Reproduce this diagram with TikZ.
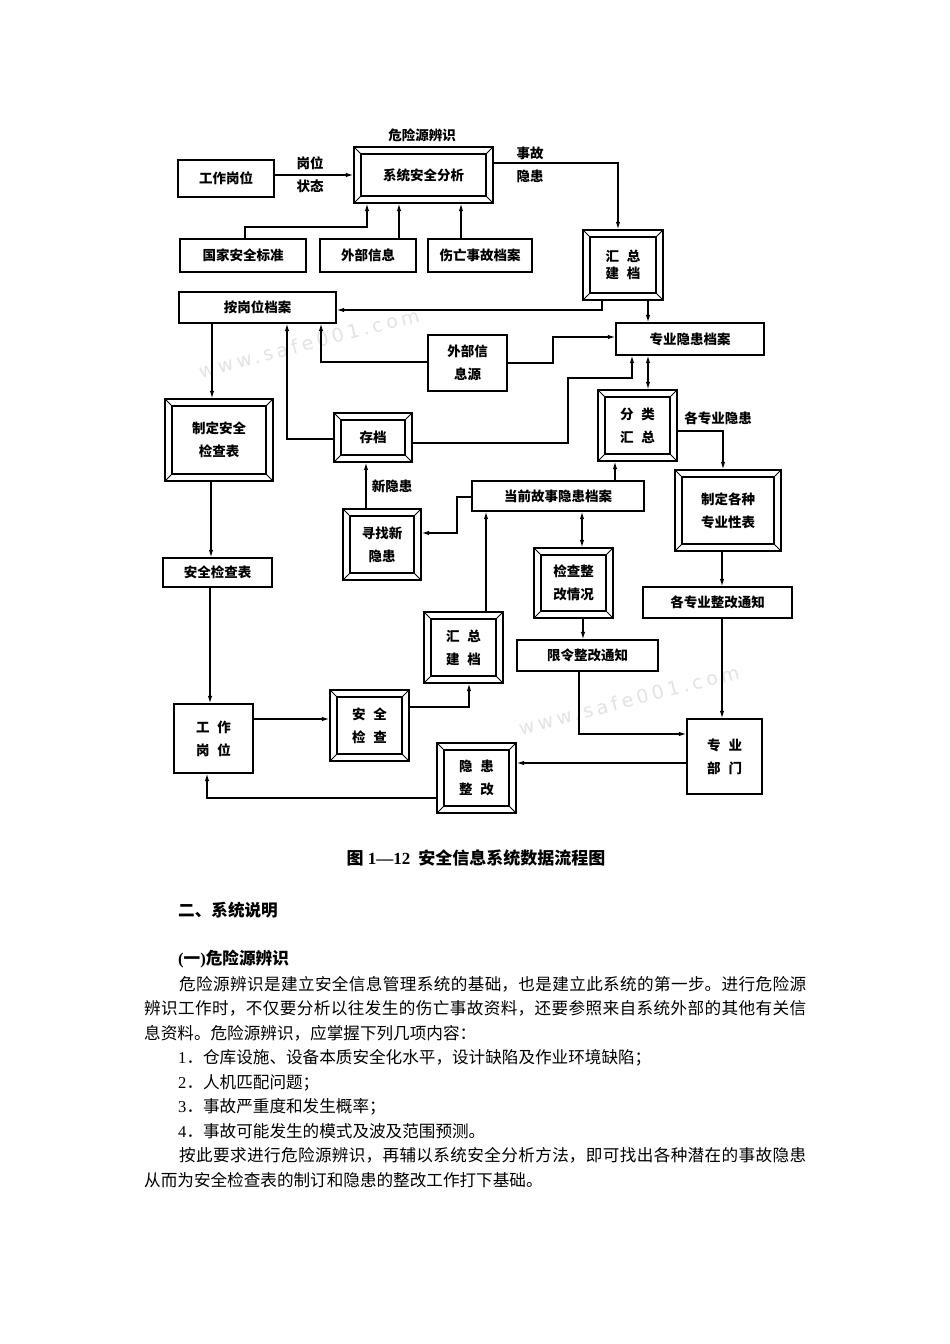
\documentclass[tikz,border=0pt]{standalone}
\usepackage{fontspec}
\setmainfont{Liberation Serif}
\newfontfamily\cjk{Noto Sans CJK SC}
\newfontfamily\wmfont[LetterSpace=20]{DejaVu Sans}
\usetikzlibrary{arrows.meta}
\XeTeXlinebreaklocale "zh"
\XeTeXlinebreakskip=0pt plus 3pt
\newcommand{\chgap}{\hspace{8pt}}

\tikzset{
  plainbox/.style={draw, line width=1.4pt, inner sep=0pt, align=center},
  bevel/.style={plainbox, path picture={
      \draw[line width=1.3pt]
        ([xshift=7pt,yshift=-7pt]path picture bounding box.north west)
        rectangle ([xshift=-7pt,yshift=7pt]path picture bounding box.south east);
      \draw[line width=0.9pt]
        (path picture bounding box.north west) -- ++(7pt,-7pt)
        (path picture bounding box.north east) -- ++(-7pt,-7pt)
        (path picture bounding box.south west) -- ++(7pt,7pt)
        (path picture bounding box.south east) -- ++(-7pt,7pt);
    }},
  sz/.style 2 args={minimum width=#1pt, minimum height=#2pt},
  lbl/.style={inner sep=0pt, align=center},
  arr/.style={line width=1.2pt, -{Latex[length=7.5pt,width=4.5pt]}},
  darr/.style={line width=1.2pt, {Latex[length=7.5pt,width=4.5pt]}-{Latex[length=7.5pt,width=4.5pt]}},
  bodyline/.style={inner sep=0pt, anchor=base west, font=\cjk\fontsize{16.6}{24}\selectfont},
  justline/.style={bodyline, text width=#1pt, align=justify,
    execute at begin node={\parfillskip=0pt\noindent}},
  headline/.style={inner sep=0pt, anchor=base west, font=\cjk\bfseries\fontsize{16.6}{24}\selectfont},
  watermark/.style={inner sep=0pt, rotate=14.5, text=gray!22, font=\wmfont\fontsize{19}{19}\selectfont}
}

\begin{document}
\begin{tikzpicture}[x=1pt, y=-1pt, font=\cjk\bfseries\fontsize{13.5}{23}\selectfont]
    \useasboundingbox[fill=white] (0,0) rectangle (950,1344);

    % Watermarks
    \node[watermark] (wmA) at (309,343) {www.safe001.com};
    \node[watermark] (wmB) at (629,700) {www.safe001.com};

    % Top row
    \node[plainbox, sz={96}{37}] (gwA) at (226,178.5) {工作岗位};
    \node[bevel, sz={139}{56}] (xtfx) at (423.5,175) {系统安全分析};
    \node[lbl] (wxyb) at (422,135) {危险源辨识};
    \node[lbl] (gwzt) at (310,174.5) {岗位\\状态};
    \node[lbl] (sgyh) at (530,164.5) {事故\\隐患};
    \node[plainbox, sz={126}{33}] (gjbz) at (243,255.5) {国家安全标准};
    \node[plainbox, sz={96}{33}] (wbxx) at (368,255.5) {外部信息};
    \node[plainbox, sz={104}{33}] (swda) at (480,255.5) {伤亡事故档案};
    \node[bevel, sz={80}{70}] (hzjdA) at (623,265) {汇\chgap 总\\[-6pt]建\chgap 档};

    % Middle part
    \node[plainbox, sz={157}{31}] (agwda) at (257.5,307.5) {按岗位档案};
    \node[plainbox, sz={148}{32}] (zyyhda) at (690,339) {专业隐患档案};
    \node[plainbox, sz={79}{56}] (wbxxy) at (467.5,363) {外部信\\息源};
    \node[bevel, sz={108}{82}] (zdaq) at (219,440) {制定安全\\检查表};
    \node[bevel, sz={78}{49}] (cd) at (373,437.5) {存档};
    \node[bevel, sz={79}{71}] (flhz) at (637.5,425.5) {分\chgap 类\\汇\chgap 总};
    \node[lbl] (gzyh) at (718,418) {各专业隐患};
    \node[bevel, sz={106}{81}] (zdgz) at (728,510.5) {制定各种\\专业性表};
    \node[plainbox, sz={172}{30}] (dqgs) at (558,496) {当前故事隐患档案};
    \node[bevel, sz={78}{71}] (xzx) at (382,544.5) {寻找新\\隐患};
    \node[lbl] (xyh) at (392,486) {新隐患};
    \node[bevel, sz={79}{70}] (jczg) at (573.5,583) {检查整\\改情况};
    \node[plainbox, sz={109}{29}] (aqjcb) at (217.5,572.5) {安全检查表};
    \node[plainbox, sz={149}{31}] (gzzm) at (717.5,602.5) {各专业整改通知};
    \node[bevel, sz={79}{71}] (hzjdB) at (463.5,647.5) {汇\chgap 总\\建\chgap 档};
    \node[plainbox, sz={141}{31}] (xlzg) at (587.5,655.5) {限令整改通知};

    % Bottom row
    \node[plainbox, sz={79}{69}] (gwB) at (213.5,738.5) {工\chgap 作\\岗\chgap 位};
    \node[bevel, sz={79}{71}] (aqjc) at (369.5,725.5) {安\chgap 全\\检\chgap 查};
    \node[plainbox, sz={75}{75}] (zybm) at (724.5,756.5) {专\chgap 业\\部\chgap 门};
    \node[bevel, sz={79}{70}] (yhzg) at (476.5,778) {隐\chgap 患\\整\chgap 改};

    % Inputs of the analysis
    \draw[arr] (gwA.east |- xtfx.west) -- (xtfx.west);
    \draw[arr] (xtfx.east |- 0,163) -| (hzjdA.north -| 618,0);
    \draw[arr] (gjbz.north -| 245,0) |- (367,227) -- (xtfx.south -| 367,0);
    \draw[arr] (wbxx.north -| 399,0) -- (xtfx.south -| 399,0);
    \draw[arr] (swda.north -| 461,0) -- (xtfx.south -| 461,0);

    % Archives
    \draw[arr] (hzjdA.south -| 602,0) |- (agwda.east |- 0,310);
    \draw[arr] (hzjdA.south -| 648,0) -- (zyyhda.north -| 648,0);
    \draw[arr] (wbxxy.west |- 0,362) -| (agwda.south -| 321,0);
    \draw[arr] (wbxxy.east |- 0,363) -- (553,363) |- (zyyhda.west |- 0,337);
    \draw[arr] (cd.west |- 0,439) -| (agwda.south -| 287,0);
    \draw[arr] (cd.east |- 0,443) -- (568,443) |- (632,378) -- (zyyhda.south -| 632,0);
    \draw[darr] (zyyhda.south -| 648,0) -- (flhz.north -| 648,0);
    \draw[arr] (flhz.east |- 0,431) -| (zdgz.north -| 723,0);
    \draw[arr] (dqgs.north -| 615,0) -- (flhz.south -| 615,0);

    % Current hazards
    \draw[arr] (dqgs.west |- 0,497) -- (457,497) |- (xzx.east |- 0,533);
    \draw[arr] (xzx.north -| 366,0) -- (cd.south -| 366,0);
    \draw[darr] (dqgs.south -| 582,0) -- (jczg.north -| 582,0);
    \draw[arr] (hzjdB.north -| 486,0) -- (dqgs.south -| 486,0);
    \draw[arr] (jczg.south -| 583,0) -- (xlzg.north -| 583,0);

    % Left and right columns
    \draw[arr] (agwda.south -| 212,0) -- (zdaq.north -| 212,0);
    \draw[arr] (zdaq.south -| 211,0) -- (aqjcb.north -| 211,0);
    \draw[arr] (aqjcb.south -| 210,0) -- (gwB.north -| 210,0);
    \draw[arr] (zdgz.south -| 722,0) -- (gzzm.north -| 722,0);
    \draw[arr] (gzzm.south -| 722,0) -- (zybm.north -| 722,0);
    \draw[arr] (xlzg.south -| 579,0) |- (zybm.west |- 0,734);

    % Bottom loop
    \draw[arr] (gwB.east |- 0,719) -- (aqjc.west |- 0,719);
    \draw[arr] (aqjc.east |- 0,707) -| (hzjdB.south -| 469,0);
    \draw[arr] (zybm.west |- 0,763) -- (yhzg.east |- 0,763);
    \draw[arr] (yhzg.west |- 0,798) -| (gwB.south -| 207,0);

    % Caption and text
    \node[inner sep=0pt, font=\bfseries\fontsize{17}{20}\selectfont] (cap) at (476,858)
        {{\cjk 图} 1—12\hspace{8pt}{\cjk 安全信息系统数据流程图}};
    \node[headline] (hA) at (178,916) {二、系统说明};
    \node[headline] (hB) at (178,964) {{\rmfamily (}一{\rmfamily )}危险源辨识};
    \node[justline=627] (pA) at (179,990) {危险源辨识是建立安全信息管理系统的基础，也是建立此系统的第一步。进行危险源};
    \node[justline=662] (pB) at (144,1014.5) {辨识工作时，不仅要分析以往发生的伤亡事故资料，还要参照来自系统外部的其他有关信};
    \node[bodyline] (pC) at (144,1039) {息资料。危险源辨识，应掌握下列几项内容：};
    \node[bodyline] (iA) at (178,1063.5) {{\rmfamily 1}．仓库设施、设备本质安全化水平，设计缺陷及作业环境缺陷；};
    \node[bodyline] (iB) at (178,1088) {{\rmfamily 2}．人机匹配问题；};
    \node[bodyline] (iC) at (178,1112.5) {{\rmfamily 3}．事故严重度和发生概率；};
    \node[bodyline] (iD) at (178,1137) {{\rmfamily 4}．事故可能发生的模式及波及范围预测。};
    \node[justline=627] (pD) at (179,1161.5) {按此要求进行危险源辨识，再辅以系统安全分析方法，即可找出各种潜在的事故隐患};
    \node[bodyline] (pE) at (144,1186) {从而为安全检查表的制订和隐患的整改工作打下基础。};
\end{tikzpicture}
\end{document}
